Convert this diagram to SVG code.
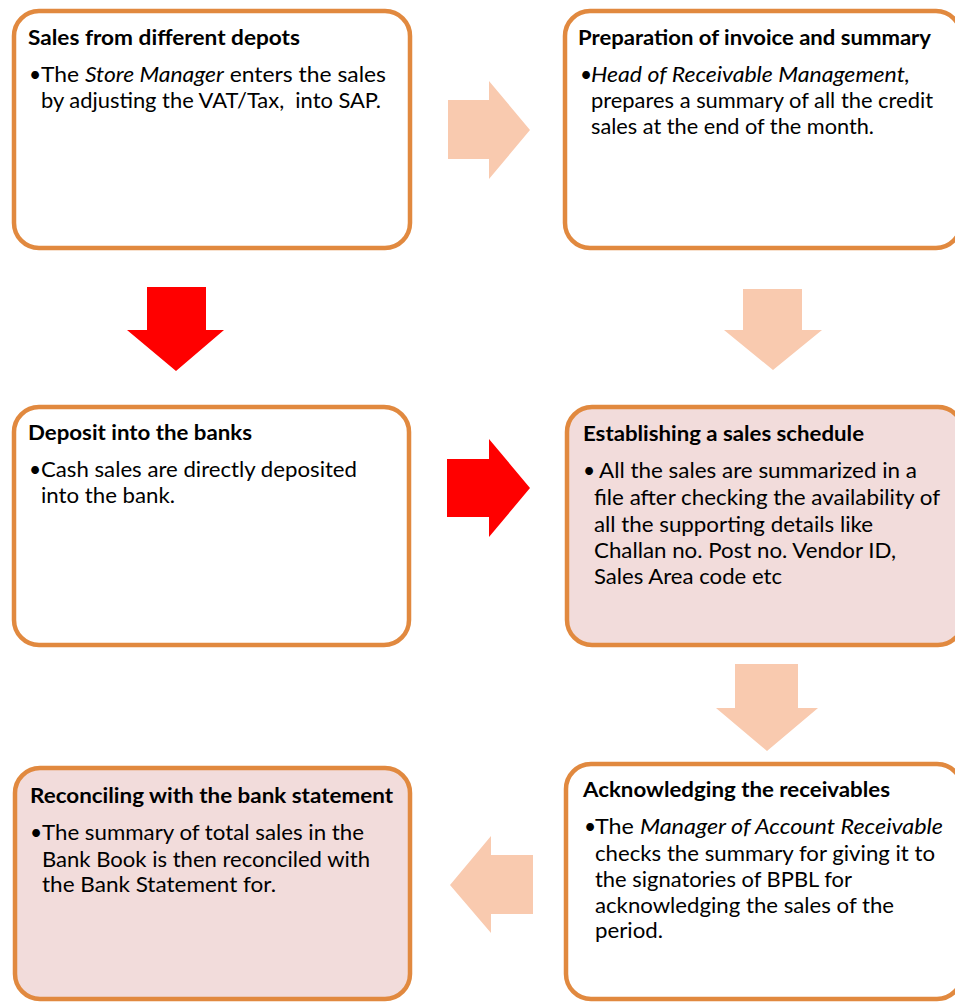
<svg xmlns="http://www.w3.org/2000/svg" width="955" height="1003" viewBox="0 0 955 1003">
  <defs>
    <style>
      .box { fill: #ffffff; stroke: #E1893F; stroke-width: 4.5; }
      .box.pink { fill: #F2DCDB; }
      .title { font-family: Lato, "Liberation Sans", sans-serif; font-weight: bold; font-size: 21px; fill: #000; }
      .body { font-family: Lato, "Liberation Sans", sans-serif; font-size: 21px; fill: #000; }
      .it { font-style: italic; }
      .peach { fill: #F9CAAF; }
      .red { fill: #FF0000; }
    </style>
  </defs>
  <rect width="955" height="1003" fill="#ffffff"/>

  <!-- connectors: block arrows between steps -->
  <g id="connectors">
    <polygon class="peach" points="448,100 489,100 489,81 530,130 489,179 489,159 448,159"/>
    <polygon class="red" points="147,287 206,287 206,330 224,330 176,371 127,330 147,330"/>
    <polygon class="peach" points="743,289 802,289 802,330 822,330 773,370 724,330 743,330"/>
    <polygon class="red" points="447,459 489,459 489,439 530,488 489,537 489,517 447,517"/>
    <polygon class="peach" points="735,664 798,664 798,708 818,708 767,751 716,708 735,708"/>
    <polygon class="peach" points="533,855 491,855 491,836 450,885 491,933 491,914 533,914"/>
  </g>

  <g id="sales-depots">
    <rect class="box" x="14" y="11" width="396" height="237" rx="25"/>
    <text class="title" x="28" y="45" textLength="272" lengthAdjust="spacingAndGlyphs">Sales from different depots</text>
    <text class="body" x="29" y="82">•</text>
    <text class="body" x="41" y="82" textLength="345" lengthAdjust="spacingAndGlyphs">The <tspan class="it">Store Manager</tspan> enters the sales</text>
    <text class="body" x="41" y="108" textLength="340" lengthAdjust="spacingAndGlyphs" xml:space="preserve">by adjusting the VAT/Tax,  into SAP.</text>
  </g>

  <g id="invoice-summary">
    <rect class="box" x="565" y="11" width="396" height="237" rx="25"/>
    <text class="title" x="578" y="45" textLength="353" lengthAdjust="spacingAndGlyphs">Preparation of invoice and summary</text>
    <text class="body" x="580" y="82">•</text>
    <text class="body it" x="591" y="82" textLength="319" lengthAdjust="spacingAndGlyphs">Head of Receivable Management,</text>
    <text class="body" x="591" y="108" textLength="342" lengthAdjust="spacingAndGlyphs">prepares a summary of all the credit</text>
    <text class="body" x="591" y="134" textLength="283" lengthAdjust="spacingAndGlyphs">sales at the end of the month.</text>
  </g>

  <g id="deposit-banks">
    <rect class="box" x="14" y="407" width="395" height="238" rx="25"/>
    <text class="title" x="28" y="440" textLength="224" lengthAdjust="spacingAndGlyphs">Deposit into the banks</text>
    <text class="body" x="29" y="477">•</text>
    <text class="body" x="41" y="477" textLength="316" lengthAdjust="spacingAndGlyphs">Cash sales are directly deposited</text>
    <text class="body" x="41" y="503" textLength="134" lengthAdjust="spacingAndGlyphs">into the bank.</text>
  </g>

  <g id="sales-schedule">
    <rect class="box pink" x="567" y="407" width="396" height="238" rx="25"/>
    <text class="title" x="583" y="441" textLength="281" lengthAdjust="spacingAndGlyphs">Establishing a sales schedule</text>
    <text class="body" x="583" y="478">•</text>
    <text class="body" x="599" y="478" textLength="318" lengthAdjust="spacingAndGlyphs">All the sales are summarized in a</text>
    <text class="body" x="594" y="505" textLength="346" lengthAdjust="spacingAndGlyphs">file after checking the availability of</text>
    <text class="body" x="594" y="532" textLength="279" lengthAdjust="spacingAndGlyphs">all the supporting details like</text>
    <text class="body" x="594" y="558" textLength="302" lengthAdjust="spacingAndGlyphs">Challan no. Post no. Vendor ID,</text>
    <text class="body" x="594" y="584" textLength="188" lengthAdjust="spacingAndGlyphs">Sales Area code etc</text>
  </g>

  <g id="reconciling">
    <rect class="box pink" x="15" y="768" width="395" height="231" rx="25"/>
    <text class="title" x="30" y="803" textLength="363" lengthAdjust="spacingAndGlyphs">Reconciling with the bank statement</text>
    <text class="body" x="30" y="840">•</text>
    <text class="body" x="42" y="840" textLength="322" lengthAdjust="spacingAndGlyphs">The summary of total sales in the</text>
    <text class="body" x="42" y="867" textLength="328" lengthAdjust="spacingAndGlyphs">Bank Book is then reconciled with</text>
    <text class="body" x="42" y="892" textLength="234" lengthAdjust="spacingAndGlyphs">the Bank Statement for.</text>
  </g>

  <g id="acknowledging">
    <rect class="box" x="566" y="764" width="396" height="235" rx="25"/>
    <text class="title" x="583" y="797" textLength="307" lengthAdjust="spacingAndGlyphs">Acknowledging the receivables</text>
    <text class="body" x="584" y="834">•</text>
    <text class="body" x="595" y="834" textLength="348" lengthAdjust="spacingAndGlyphs">The <tspan class="it">Manager of Account Receivable</tspan></text>
    <text class="body" x="595" y="861" textLength="340" lengthAdjust="spacingAndGlyphs">checks the summary for giving it to</text>
    <text class="body" x="595" y="887" textLength="257" lengthAdjust="spacingAndGlyphs">the signatories of BPBL for</text>
    <text class="body" x="595" y="913" textLength="299" lengthAdjust="spacingAndGlyphs">acknowledging the sales of the</text>
    <text class="body" x="595" y="938" textLength="68" lengthAdjust="spacingAndGlyphs">period.</text>
  </g>
</svg>
